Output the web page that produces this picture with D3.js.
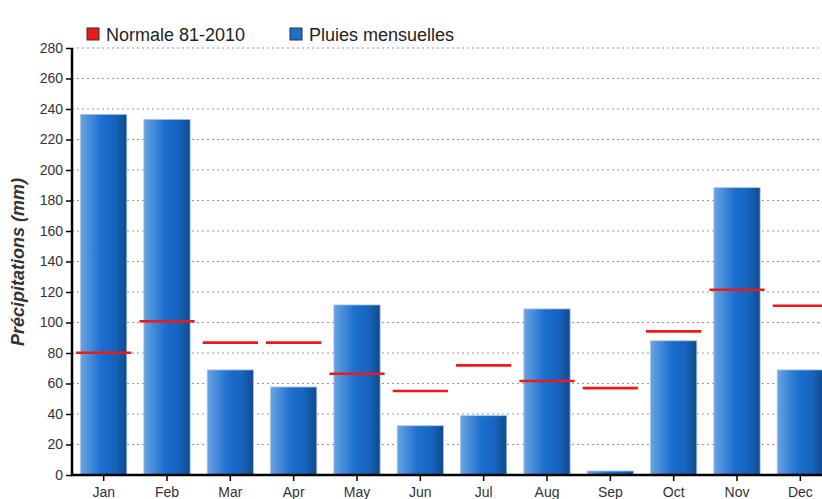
<!DOCTYPE html>
<html>
<head>
<meta charset="utf-8">
<script src="https://cdn.jsdelivr.net/npm/d3@7"></script>
<style>
  body { margin: 0; background: #fff; }
  svg { display: block; font-family: "Liberation Sans", Arial, sans-serif; }
  .grid line { stroke: #999; stroke-dasharray: 2, 3; }
</style>
</head>
<body>
<svg id="chart" width="822" height="499"></svg>
<script>
const months = ["Jan", "Feb", "Mar", "Apr", "May", "Jun", "Jul", "Aug", "Sep", "Oct", "Nov", "Dec"];
const pluies = [236.5, 233.2, 68.9, 57.7, 111.5, 32.3, 38.9, 108.9, 2.6, 88, 188.4, 68.9];
const normale = [80.2, 100.8, 86.8, 86.8, 66.4, 55.1, 71.9, 61.6, 57, 94.2, 121.5, 111];
const yTicks = d3.range(0, 281, 20);

const svg = d3.select("#chart");
const plotLeft = 72, plotRight = 832, plotTop = 48, plotBottom = 475;

const x = d3.scaleBand().domain(months).range([plotLeft, plotRight]).paddingInner(0.27).paddingOuter(0.135);
const y = d3.scaleLinear().domain([0, 280]).range([plotBottom, plotTop]);

// bar gradient
const defs = svg.append("defs");
const grad = defs.append("linearGradient").attr("id", "barGrad");
grad.append("stop").attr("offset", "0%").attr("stop-color", "#6aa3e0");
grad.append("stop").attr("offset", "45%").attr("stop-color", "#1a6fd0");
grad.append("stop").attr("offset", "75%").attr("stop-color", "#1763bd");
grad.append("stop").attr("offset", "100%").attr("stop-color", "#104a8e");

// grid
svg.append("g").attr("class", "grid")
  .selectAll("line").data(yTicks.filter(d => d > 0)).join("line")
  .attr("x1", plotLeft).attr("x2", 822)
  .attr("y1", d => y(d)).attr("y2", d => y(d));

// bars
svg.append("g").selectAll("rect").data(pluies).join("rect")
  .attr("x", (d, i) => x(months[i]))
  .attr("y", d => y(d))
  .attr("width", x.bandwidth())
  .attr("height", d => plotBottom - y(d))
  .attr("fill", "url(#barGrad)")
  .attr("stroke", "#a9c4e6")
  .attr("stroke-width", 0.8);

// normals
const extra = 4.5;
svg.append("g").selectAll("line").data(normale).join("line")
  .attr("x1", (d, i) => x(months[i]) - extra)
  .attr("x2", (d, i) => x(months[i]) + x.bandwidth() + extra)
  .attr("y1", d => y(d)).attr("y2", d => y(d))
  .attr("stroke", "#f01818").attr("stroke-width", 2.6);

// y axis
const yAxis = svg.append("g").attr("transform", `translate(${plotLeft},0)`)
  .call(d3.axisLeft(y).tickValues(yTicks).tickSize(6).tickPadding(3));
yAxis.select(".domain").attr("stroke", "#000").attr("stroke-width", 2.5).attr("d", `M0,${plotTop}V${plotBottom + 1}`);
yAxis.selectAll(".tick line").attr("stroke", "#000").attr("stroke-width", 1.5);
yAxis.selectAll(".tick text").attr("font-size", 14).attr("fill", "#333");

// x axis
const xAxis = svg.append("g").attr("transform", `translate(0,${plotBottom})`)
  .call(d3.axisBottom(x).tickSize(6).tickPadding(6));
xAxis.select(".domain").attr("stroke", "#000").attr("stroke-width", 2.5).attr("d", `M${plotLeft - 1},0H822`);
xAxis.selectAll(".tick line").attr("stroke", "#000").attr("stroke-width", 1.5);
xAxis.selectAll(".tick text").attr("font-size", 14).attr("fill", "#333");

// y label
svg.append("text")
  .attr("transform", `translate(24,262) rotate(-90)`)
  .attr("text-anchor", "middle")
  .attr("font-size", 18).attr("font-weight", "bold").attr("font-style", "italic")
  .attr("fill", "#333")
  .text("Précipitations (mm)");

// legend
const legend = [
  { label: "Normale 81-2010", color: "#f01818", x: 87 },
  { label: "Pluies mensuelles", color: "#1a6fd0", x: 290 }
];
const lg = svg.append("g").selectAll("g").data(legend).join("g")
  .attr("transform", d => `translate(${d.x},28)`);
lg.append("rect").attr("width", 12).attr("height", 12)
  .attr("fill", d => d.color).attr("stroke", "#333").attr("stroke-width", 1);
lg.append("text").attr("x", 19).attr("y", 13)
  .attr("font-size", 18).attr("fill", "#222")
  .text(d => d.label);
</script>
</body>
</html>
